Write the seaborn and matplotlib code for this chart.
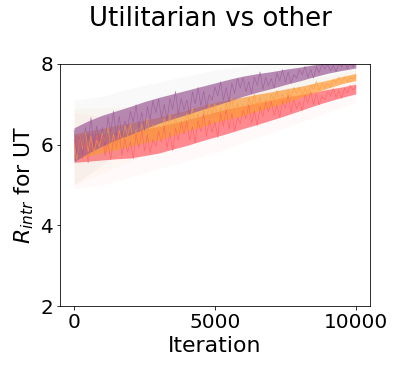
import matplotlib
matplotlib.use("Agg")
import matplotlib.pyplot as plt
import seaborn as sns
import pandas as pd

# x grids: noisy curves every 100 iterations, core bands every 500, faint bands every 1000
iters = list(range(0, 10001, 100))
iters_mid = list(range(0, 10001, 500))
iters_coarse = list(range(0, 10001, 1000))

# purple series
purple_curve = [6.36, 5.77, 6.22, 5.71, 6.42, 6.10, 6.67, 5.94, 6.46, 6.09,
                6.43, 5.96, 6.69, 6.30, 6.83, 6.22, 6.71, 6.19, 6.59, 6.41,
                6.83, 6.55, 6.99, 6.41, 6.81, 6.35, 6.94, 6.62, 7.10, 6.79,
                7.13, 6.66, 7.00, 6.60, 7.14, 6.88, 7.32, 6.75, 7.15, 6.86,
                7.11, 6.75, 7.31, 7.01, 7.42, 6.96, 7.33, 6.93, 7.24, 7.10,
                7.43, 7.21, 7.56, 7.10, 7.42, 7.05, 7.52, 7.27, 7.65, 7.40,
                7.66, 7.31, 7.56, 7.26, 7.67, 7.47, 7.80, 7.37, 7.67, 7.46,
                7.64, 7.40, 7.78, 7.58, 7.86, 7.54, 7.80, 7.53, 7.74, 7.65,
                7.86, 7.73, 7.94, 7.67, 7.86, 7.65, 7.93, 7.78, 8.01, 7.87,
                8.00, 7.83, 7.96, 7.81, 8.02, 7.92, 8.09, 7.88, 8.03, 7.93, 8.05]
purple_lo = [5.58, 5.79, 5.97, 6.12, 6.25, 6.39, 6.53, 6.64, 6.75, 6.86, 6.97,
             7.08, 7.20, 7.30, 7.39, 7.49, 7.58, 7.68, 7.77, 7.84, 7.90]
purple_hi = [6.42, 6.59, 6.73, 6.84, 6.95, 7.07, 7.17, 7.26, 7.35, 7.44, 7.53,
             7.62, 7.70, 7.76, 7.81, 7.87, 7.92, 7.98, 8.03, 8.06, 8.10]
purple_faint_lo = [5.0, 5.5, 5.9, 6.2, 6.5, 6.7, 6.95, 7.15, 7.4, 7.6, 7.8]
purple_faint_hi = [7.1, 7.2, 7.4, 7.55, 7.7, 7.85, 7.95, 8.05, 8.1, 8.15, 8.2]

# orange series
orange_curve = [6.02, 5.62, 6.23, 5.89, 6.33, 5.82, 6.22, 5.78, 6.11, 5.95,
                6.30, 6.05, 6.43, 5.91, 6.26, 5.85, 6.36, 6.07, 6.48, 6.20,
                6.51, 6.07, 6.38, 6.01, 6.50, 6.26, 6.66, 6.13, 6.50, 6.23,
                6.46, 6.12, 6.65, 6.37, 6.75, 6.32, 6.67, 6.30, 6.59, 6.46,
                6.78, 6.56, 6.91, 6.45, 6.77, 6.40, 6.87, 6.62, 7.00, 6.75,
                7.02, 6.65, 6.91, 6.59, 7.03, 6.82, 7.17, 6.71, 7.03, 6.80,
                7.00, 6.72, 7.16, 6.93, 7.25, 6.89, 7.18, 6.87, 7.12, 7.01,
                7.24, 7.10, 7.34, 7.04, 7.25, 7.01, 7.33, 7.17, 7.42, 7.26,
                7.42, 7.23, 7.39, 7.23, 7.47, 7.37, 7.57, 7.34, 7.52, 7.41,
                7.52, 7.42, 7.61, 7.53, 7.67, 7.54, 7.67, 7.56, 7.66, 7.63, 7.71]
orange_lo = [5.63, 5.72, 5.80, 5.88, 5.96, 6.05, 6.12, 6.23, 6.34, 6.44, 6.55,
             6.64, 6.72, 6.83, 6.93, 7.04, 7.16, 7.28, 7.40, 7.51, 7.59]
orange_hi = [6.27, 6.34, 6.40, 6.48, 6.54, 6.61, 6.68, 6.77, 6.86, 6.96, 7.05,
             7.12, 7.18, 7.25, 7.31, 7.38, 7.44, 7.52, 7.60, 7.69, 7.77]
orange_faint_lo = [5.0, 5.3, 5.6, 5.85, 6.1, 6.35, 6.55, 6.75, 7.0, 7.25, 7.45]
orange_faint_hi = [6.9, 6.9, 6.95, 7.0, 7.1, 7.25, 7.35, 7.5, 7.6, 7.7, 7.85]

# red series
red_curve = [6.13, 5.83, 6.25, 5.65, 6.03, 5.55, 6.12, 5.78, 6.24, 5.91,
             6.25, 5.73, 6.07, 5.63, 6.19, 5.90, 6.35, 5.73, 6.14, 5.81,
             6.07, 5.65, 6.27, 5.92, 6.36, 5.84, 6.25, 5.79, 6.13, 5.96,
             6.34, 6.06, 6.47, 5.92, 6.30, 5.85, 6.41, 6.11, 6.56, 6.25,
             6.58, 6.11, 6.45, 6.05, 6.59, 6.33, 6.77, 6.20, 6.60, 6.31,
             6.57, 6.18, 6.78, 6.45, 6.88, 6.39, 6.78, 6.35, 6.67, 6.52,
             6.86, 6.64, 6.99, 6.53, 6.84, 6.47, 6.94, 6.69, 7.06, 6.81,
             7.08, 6.72, 6.98, 6.67, 7.09, 6.90, 7.24, 6.80, 7.11, 6.89,
             7.08, 6.84, 7.23, 7.03, 7.31, 7.00, 7.26, 6.99, 7.20, 7.11,
             7.31, 7.21, 7.39, 7.17, 7.34, 7.15, 7.40, 7.28, 7.47, 7.35, 7.43]
red_lo = [5.56, 5.59, 5.62, 5.65, 5.67, 5.73, 5.79, 5.89, 5.98, 6.09, 6.19,
          6.29, 6.40, 6.50, 6.61, 6.72, 6.84, 6.96, 7.07, 7.17, 7.26]
red_hi = [6.24, 6.27, 6.28, 6.31, 6.33, 6.39, 6.45, 6.53, 6.62, 6.71, 6.81,
          6.89, 6.96, 7.04, 7.11, 7.18, 7.24, 7.30, 7.37, 7.43, 7.50]
red_faint_lo = [4.9, 5.0, 5.2, 5.4, 5.6, 5.8, 6.05, 6.3, 6.55, 6.8, 7.05]
red_faint_hi = [6.8, 6.7, 6.75, 6.85, 6.95, 7.1, 7.25, 7.35, 7.45, 7.55, 7.6]

series = [
    ("red", "#ff5a64", "#ff8a90", red_curve, red_lo, red_hi, red_faint_lo, red_faint_hi),
    ("orange", "#ff9a35", "#ffb060", orange_curve, orange_lo, orange_hi, orange_faint_lo, orange_faint_hi),
    ("purple", "#9a5a95", "#7f9080", purple_curve, purple_lo, purple_hi, purple_faint_lo, purple_faint_hi),
]

sns.set_style("ticks")
plt.rcParams.update({
    "axes.edgecolor": "black",
    "xtick.color": "black",
    "ytick.color": "black",
    "text.color": "black",
    "axes.labelcolor": "black",
})

fig = plt.figure(figsize=(399 / 72, 372 / 72), dpi=72)
ax = fig.add_axes([0.1504, 0.1774, 0.7766, 0.6506])

for name, color, faint, curve, lo, hi, flo, fhi in series:
    ax.fill_between(iters_coarse, flo, fhi, color=faint, alpha=0.05, lw=0)
    ax.fill_between(iters_mid, lo, hi, color=color, alpha=0.7, lw=0)
    df = pd.DataFrame({"Iteration": iters, "value": curve})
    sns.lineplot(data=df, x="Iteration", y="value", color=color, lw=0.7,
                 alpha=0.75, ax=ax)

ax.set_xlim(-500, 10500)
ax.set_ylim(2, 8)
ax.set_yticks([2, 4, 6, 8])
ax.set_xticks([0, 5000, 10000])
ax.tick_params(labelsize=20)
ax.set_xlabel("Iteration", fontsize=22)
ax.set_ylabel("$R_{intr}$ for UT", fontsize=22)
fig.suptitle("Utilitarian vs other", fontsize=26, x=0.527, y=0.985)

fig.savefig("out.png", dpi=72)
